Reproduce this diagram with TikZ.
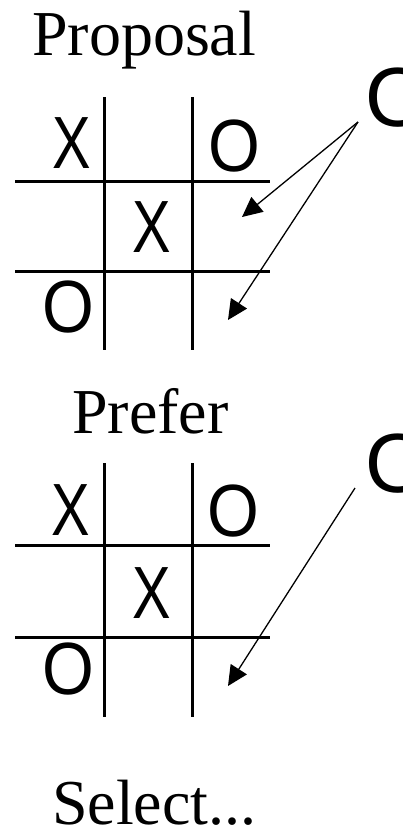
\documentclass[tikz,border=0pt]{standalone}
\usepackage{graphicx}
\usepackage{fontspec}
\setmainfont{Liberation Serif}
\newfontfamily\gridfont{Liberation Sans}
\newcommand\glyphX{\scalebox{0.78}[1]{X}}
\newcommand\glyphO{\scalebox{0.9}[1]{O}}
\usetikzlibrary{arrows.meta}
\begin{document}
\begin{tikzpicture}[x=1pt,y=-1pt,
  title/.style={font=\fontsize{64}{70}\selectfont, anchor=base west, inner sep=0pt},
  cellmark/.style={font=\gridfont\fontsize{74}{80}\selectfont, anchor=base, inner sep=0pt},
  bigmark/.style={font=\gridfont\fontsize{84}{90}\selectfont, anchor=base west, inner sep=0pt},
  gridline/.style={line width=3pt},
  ptr/.style={line width=1.3pt, -{Triangle[length=20pt,width=19pt]}}]
\useasboundingbox (0,0) rectangle (402,830);
\clip (0,0) rectangle (402,830);
% titles
\node[title] (proposal) at (32,55) {Proposal};
\node[title] (prefer) at (72,433) {Prefer};
\node[title] (select) at (52,824) {Select...};
% grid 1
\draw[gridline] (104,97) -- (104,350);
\draw[gridline] (192,97) -- (192,350);
\draw[gridline] (15,181) -- (270,181);
\draw[gridline] (15,271) -- (270,271);
\node[cellmark] (ax1) at (72,168) {\glyphX};
\node[cellmark] (ao1) at (234,171) {\glyphO};
\node[cellmark] (ax2) at (152,252) {\glyphX};
\node[cellmark] (ao2) at (68,332) {\glyphO};
% grid 2
\draw[gridline] (104,463) -- (104,717);
\draw[gridline] (192,463) -- (192,717);
\draw[gridline] (15,545) -- (270,545);
\draw[gridline] (15,637) -- (270,637);
\node[cellmark] (bx1) at (71,535) {\glyphX};
\node[cellmark] (bo1) at (233,536) {\glyphO};
\node[cellmark] (bx2) at (152,618) {\glyphX};
\node[cellmark] (bo2) at (68,694) {\glyphO};
% right O labels
\node[bigmark] (oa) at (365,126) {O};
\node[bigmark] (ob) at (365,492) {O};
% arrows
\coordinate (s1) at (358,122);
\coordinate (t1) at (242,217);
\coordinate (t2) at (228,320);
\coordinate (s2) at (355,488);
\coordinate (t3) at (228,686);
\draw[ptr] (s1) -- (t1);
\draw[ptr] (s1) -- (t2);
\draw[ptr] (s2) -- (t3);
\end{tikzpicture}
\end{document}
